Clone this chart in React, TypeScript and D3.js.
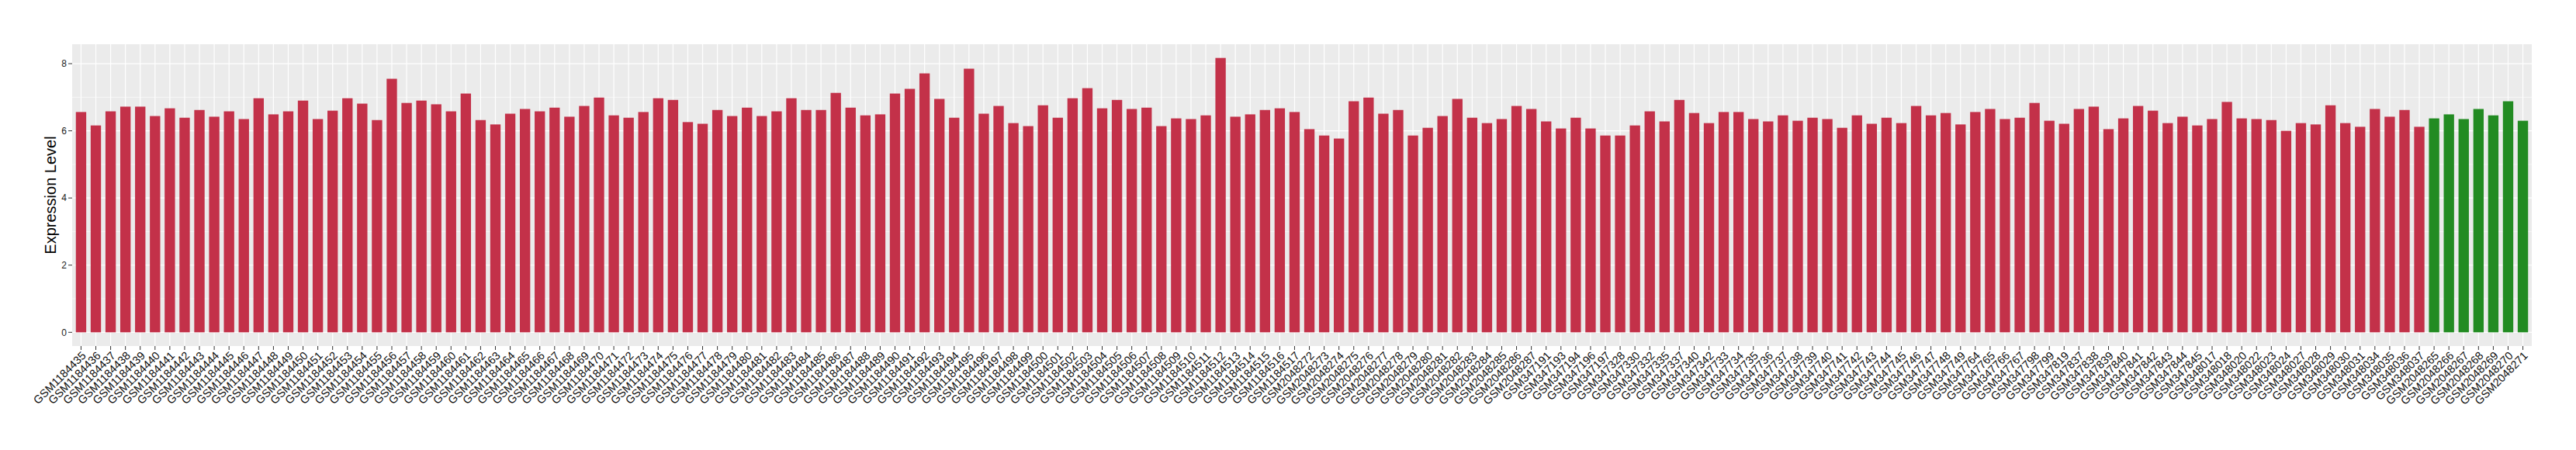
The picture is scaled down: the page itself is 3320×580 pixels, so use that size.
import React from 'react'
import * as d3 from 'd3'

// sample ids, as printed under the bars
const tumorSamples = [
  'GSM1184435', 'GSM1184436', 'GSM1184437', 'GSM1184438', 'GSM1184439', 'GSM1184440', 'GSM1184441', 'GSM1184442', 'GSM1184443', 'GSM1184444',
  'GSM1184445', 'GSM1184446', 'GSM1184447', 'GSM1184448', 'GSM1184449', 'GSM1184450', 'GSM1184451', 'GSM1184452', 'GSM1184453', 'GSM1184454',
  'GSM1184455', 'GSM1184456', 'GSM1184457', 'GSM1184458', 'GSM1184459', 'GSM1184460', 'GSM1184461', 'GSM1184462', 'GSM1184463', 'GSM1184464',
  'GSM1184465', 'GSM1184466', 'GSM1184467', 'GSM1184468', 'GSM1184469', 'GSM1184470', 'GSM1184471', 'GSM1184472', 'GSM1184473', 'GSM1184474',
  'GSM1184475', 'GSM1184476', 'GSM1184477', 'GSM1184478', 'GSM1184479', 'GSM1184480', 'GSM1184481', 'GSM1184482', 'GSM1184483', 'GSM1184484',
  'GSM1184485', 'GSM1184486', 'GSM1184487', 'GSM1184488', 'GSM1184489', 'GSM1184490', 'GSM1184491', 'GSM1184492', 'GSM1184493', 'GSM1184494',
  'GSM1184495', 'GSM1184496', 'GSM1184497', 'GSM1184498', 'GSM1184499', 'GSM1184500', 'GSM1184501', 'GSM1184502', 'GSM1184503', 'GSM1184504',
  'GSM1184505', 'GSM1184506', 'GSM1184507', 'GSM1184508', 'GSM1184509', 'GSM1184510', 'GSM1184511', 'GSM1184512', 'GSM1184513', 'GSM1184514',
  'GSM1184515', 'GSM1184516', 'GSM1184517',
  'GSM2048272', 'GSM2048273', 'GSM2048274', 'GSM2048275', 'GSM2048276', 'GSM2048277', 'GSM2048278', 'GSM2048279', 'GSM2048280', 'GSM2048281',
  'GSM2048282', 'GSM2048283', 'GSM2048284', 'GSM2048285', 'GSM2048286', 'GSM2048287',
  'GSM347191', 'GSM347193', 'GSM347194', 'GSM347196', 'GSM347197', 'GSM347328', 'GSM347330', 'GSM347332', 'GSM347335', 'GSM347337',
  'GSM347340', 'GSM347342', 'GSM347733', 'GSM347734', 'GSM347735', 'GSM347736', 'GSM347737', 'GSM347738', 'GSM347739', 'GSM347740',
  'GSM347741', 'GSM347742', 'GSM347743', 'GSM347744', 'GSM347745', 'GSM347746', 'GSM347747', 'GSM347748', 'GSM347749', 'GSM347764',
  'GSM347765', 'GSM347766', 'GSM347767', 'GSM347798', 'GSM347799', 'GSM347819', 'GSM347837', 'GSM347838', 'GSM347839', 'GSM347840',
  'GSM347841', 'GSM347842', 'GSM347843', 'GSM347844', 'GSM347845',
  'GSM348017', 'GSM348018', 'GSM348020', 'GSM348022', 'GSM348023', 'GSM348024', 'GSM348027', 'GSM348028', 'GSM348029', 'GSM348030',
  'GSM348031', 'GSM348034', 'GSM348035', 'GSM348036', 'GSM348037',
]

const tumorValues = [
  6.56, 6.16, 6.58, 6.72, 6.72, 6.44, 6.67, 6.39, 6.62, 6.42,
  6.58, 6.35, 6.97, 6.49, 6.58, 6.90, 6.35, 6.60, 6.97, 6.81,
  6.32, 7.55, 6.83, 6.90, 6.79, 6.58, 7.11, 6.32, 6.19, 6.51,
  6.65, 6.58, 6.69, 6.42, 6.74, 6.99, 6.46, 6.39, 6.56, 6.97,
  6.92, 6.26, 6.21, 6.62, 6.44, 6.69, 6.44, 6.58, 6.97, 6.62,
  6.62, 7.13, 6.69, 6.46, 6.49, 7.11, 7.25, 7.71, 6.95, 6.39,
  7.85, 6.51, 6.74, 6.23, 6.14, 6.76, 6.39, 6.97, 7.27, 6.67,
  6.92, 6.65, 6.69, 6.14, 6.37, 6.35, 6.46, 8.17, 6.42, 6.49,
  6.62, 6.67, 6.56, 6.05, 5.86, 5.77, 6.88, 6.99, 6.51, 6.62,
  5.86, 6.09, 6.44, 6.95, 6.39, 6.23, 6.35, 6.74, 6.65, 6.28,
  6.07, 6.39, 6.07, 5.86, 5.86, 6.16, 6.58, 6.28, 6.92, 6.53,
  6.23, 6.56, 6.56, 6.35, 6.28, 6.46, 6.30, 6.39, 6.35, 6.09,
  6.46, 6.21, 6.39, 6.23, 6.74, 6.46, 6.53, 6.19, 6.56, 6.65,
  6.35, 6.39, 6.83, 6.30, 6.21, 6.65, 6.72, 6.05, 6.37, 6.74,
  6.60, 6.23, 6.42, 6.16, 6.35, 6.86, 6.37, 6.35, 6.32, 6.00,
  6.23, 6.19, 6.76, 6.23, 6.12, 6.65, 6.42, 6.62, 6.12,
]

const normalSamples = ['GSM2048265', 'GSM2048266', 'GSM2048267', 'GSM2048268', 'GSM2048269', 'GSM2048270', 'GSM2048271']
const normalValues = [6.37, 6.49, 6.35, 6.65, 6.46, 6.88, 6.30]

const yTicks = [0, 2, 4, 6, 8]
const yMinorTicks = [1, 3, 5, 7]

const TUMOR_COLOR = '#C33149'
const NORMAL_COLOR = '#228B22'
const FONT = '"Liberation Sans", Arial, Helvetica, sans-serif'

type Row = { sample: string, value: number, group: string }

const rows: Row[] = [
  ...tumorSamples.map((s, i) => ({ sample: s, value: tumorValues[i], group: 'tumor' })),
  ...normalSamples.map((s, i) => ({ sample: s, value: normalValues[i], group: 'normal' })),
]

export default function App() {
  const width = 3320
  const height = 580
  const margin = { top: 57, right: 57, bottom: 134, left: 93 }
  const innerW = width - margin.left - margin.right
  const innerH = height - margin.top - margin.bottom

  const maxVal = d3.max(rows, (d) => d.value) || 1
  const pad = maxVal * 0.05

  const x = d3.scaleBand<string>()
    .domain(rows.map((d) => d.sample))
    .range([0, innerW])
    .paddingInner(0.3)
    .paddingOuter(0.25)

  const y = d3.scaleLinear()
    .domain([-pad, maxVal + pad])
    .range([innerH, 0])

  const bw = x.bandwidth()
  const center = (s: string) => (x(s) || 0) + bw / 2

  return (
    <>
      <style>{'body{margin:0}'}</style>
      <svg width={width} height={height} style={{ display: 'block', background: '#fff' }}>
        <g transform={`translate(${margin.left}, ${margin.top})`}>
          <rect x={0} y={0} width={innerW} height={innerH} fill="#EBEBEB" />
          {yMinorTicks.map((t) => (
            <line key={`ym${t}`} x1={0} x2={innerW} y1={y(t)} y2={y(t)} stroke="#fff" strokeWidth={0.6} />
          ))}
          {yTicks.map((t) => (
            <line key={`yg${t}`} x1={0} x2={innerW} y1={y(t)} y2={y(t)} stroke="#fff" strokeWidth={1.2} />
          ))}
          {rows.map((d) => (
            <line key={`xg${d.sample}`} x1={center(d.sample)} x2={center(d.sample)} y1={0} y2={innerH} stroke="#fff" strokeWidth={1.2} />
          ))}
          {rows.map((d) => (
            <rect
              key={d.sample}
              x={x(d.sample)}
              y={y(d.value)}
              width={bw}
              height={y(0) - y(d.value)}
              fill={d.group === 'normal' ? NORMAL_COLOR : TUMOR_COLOR}
            />
          ))}

          {/* y axis */}
          {yTicks.map((t) => (
            <g key={`yt${t}`} transform={`translate(0, ${y(t)})`}>
              <line x1={-5} x2={0} stroke="#333" strokeWidth={1} />
              <text x={-7} dy="0.35em" textAnchor="end" fontFamily={FONT} fontSize={12} fill="#1a1a1a">{t}</text>
            </g>
          ))}
          <text
            transform={`translate(${65 - margin.left}, ${innerH / 2}) rotate(-90)`}
            textAnchor="middle"
            dy="0.35em"
            fontFamily={FONT}
            fontSize={20}
            fill="#000"
          >
            Expression Level
          </text>

          {/* x axis */}
          {rows.map((d) => (
            <g key={`xt${d.sample}`} transform={`translate(${center(d.sample)}, ${innerH})`}>
              <line y1={0} y2={5} stroke="#333" strokeWidth={1} />
              <text
                transform="translate(0, 6) rotate(-45)"
                textAnchor="end"
                dy="0.7em"
                fontFamily={FONT}
                fontSize={14.5}
                fill="#111"
              >
                {d.sample}
              </text>
            </g>
          ))}
        </g>
      </svg>
    </>
  )
}
